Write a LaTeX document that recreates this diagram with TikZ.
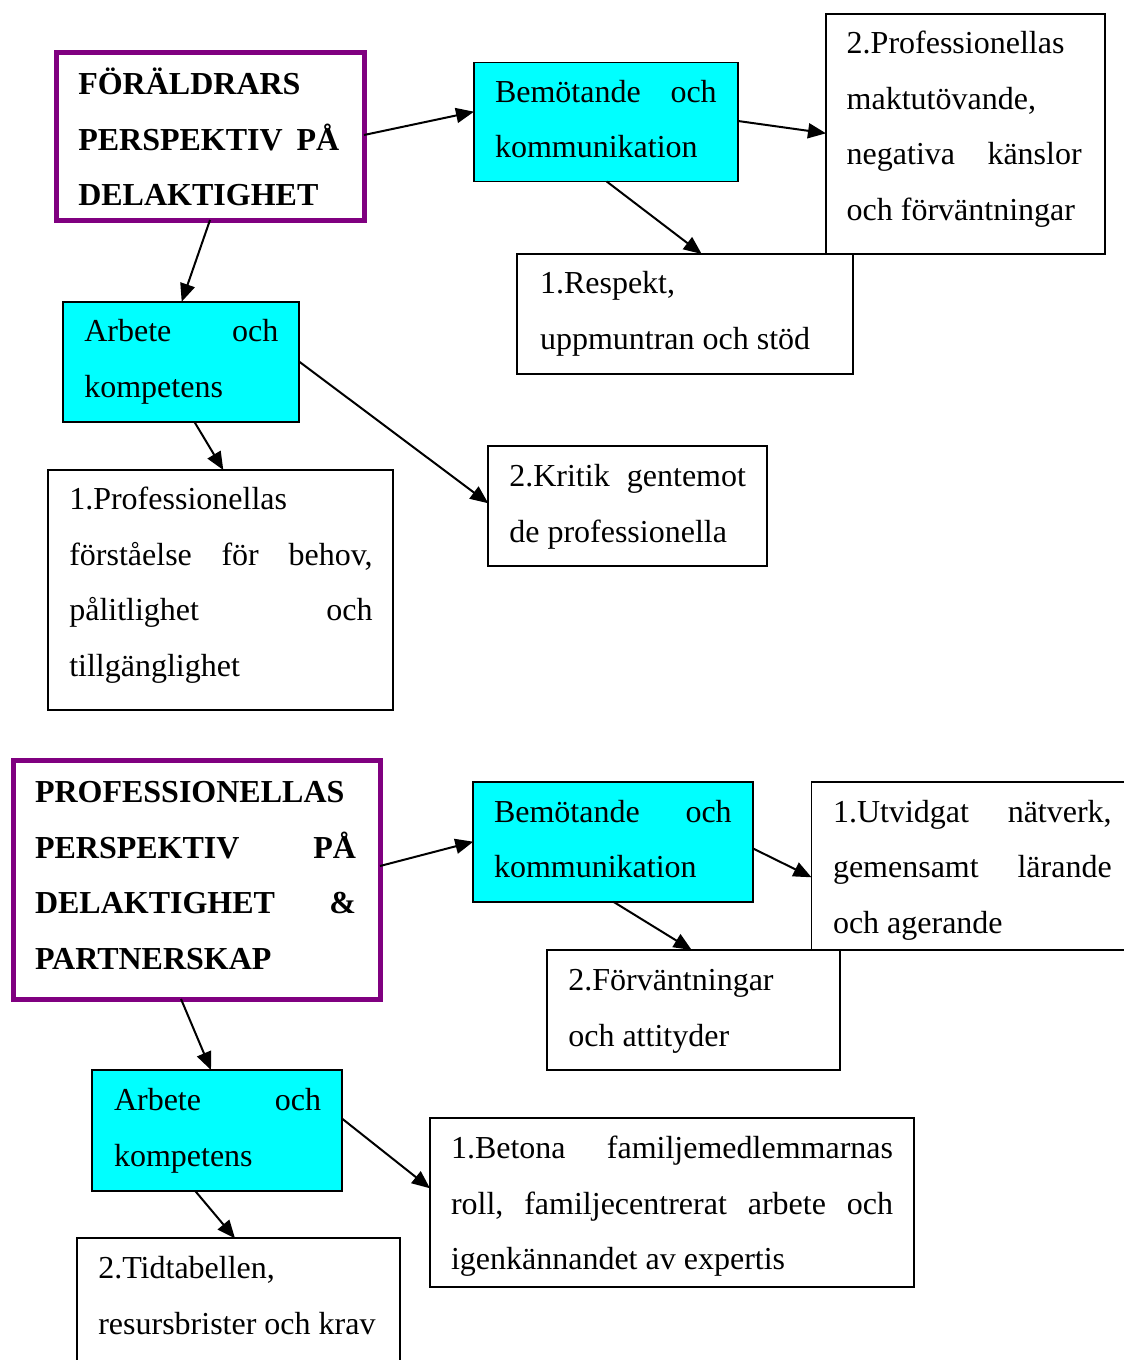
\documentclass[tikz,border=0pt]{standalone}
\usepackage{fontspec}
\setmainfont{Liberation Serif}
\usetikzlibrary{arrows.meta,fit,calc}
\definecolor{boxpurple}{RGB}{128,0,128}
\definecolor{boxcyan}{RGB}{0,255,255}
\begin{document}
\begin{tikzpicture}[x=0.5pt,y=-0.5pt,
  plainbox/.style={draw=black, line width=0.9pt, fill=white, inner sep=0pt, outer sep=0pt},
  cyanbox/.style={plainbox, fill=boxcyan},
  purplebox/.style={draw=boxpurple, line width=2.5pt, fill=white, inner sep=0pt, outer sep=0pt},
  txt/.style={anchor=base west, inner sep=0pt, outer sep=0pt, font=\fontsize{16pt}{27.75pt}\selectfont},
  conn/.style={line width=1pt, -{Triangle[length=9pt,width=7.5pt]}}]
\useasboundingbox (0,0) rectangle (1124,1360);
\clip (0,0) rectangle (1124,1360);

% ---------- upper diagram ----------
\node[purplebox, fit={(56,52)(364,220)}] (p1) {};
\node[cyanbox, fit={(474,62.5)(738,181.5)}] (bm1) {};
\node[plainbox, fit={(826,14)(1105,254)}] (pm) {};
\node[plainbox, fit={(517.3,254)(853.3,374)}] (rs) {};
\node[cyanbox, fit={(62.7,301.7)(299.3,421.7)}] (ak1) {};
\node[plainbox, fit={(48.3,470)(393.3,710)}] (pf) {};
\node[plainbox, fit={(488.3,446)(767.3,566)}] (kr) {};

\node[txt] (tp1) at (78.3,94.5) {\parbox[t]{130.5pt}{\bfseries F\"OR\"ALDRARS\\\makebox[\linewidth]{PERSPEKTIV\hfill P\AA}\\DELAKTIGHET}};
\node[txt] (tbm1) at (495,102.2) {\parbox[t]{110.85pt}{\makebox[\linewidth]{Bemötande\hfill och}\\kommunikation}};
\node[txt] (tpm) at (846.7,53.8) {\parbox[t]{117.5pt}{2.Professionellas\\maktutövande,\\\makebox[\linewidth]{negativa\hfill känslor}\\och förväntningar}};
\node[txt] (trs) at (540,293.8) {\parbox[t]{150pt}{1.Respekt,\\uppmuntran och stöd}};
\node[txt] (tak1) at (84.3,341.5) {\parbox[t]{97pt}{\makebox[\linewidth]{Arbete\hfill och}\\kompetens}};
\node[txt] (tpf) at (69.3,509.8) {\parbox[t]{151.7pt}{1.Professionellas\\\makebox[\linewidth]{förståelse\hfill för\hfill behov,}\\\makebox[\linewidth]{pålitlighet\hfill och}\\tillgänglighet}};
\node[txt] (tkr) at (509.3,486.5) {\parbox[t]{118.35pt}{\makebox[\linewidth]{2.Kritik\hfill gentemot}\\de professionella}};

\draw[conn] (p1.east |- 0,135) -- (bm1.west |- 0,111.7);
\draw[conn] (bm1.east |- 0,121) -- (pm.west |- 0,133.3);
\draw[conn] (bm1.south -| 606.7,0) -- (rs.north -| 701.7,0);
\draw[conn] (p1.south -| 210,0) -- (ak1.north -| 181.7,0);
\draw[conn] (ak1.east |- 0,361.7) -- (kr.west |- 0,503.3);
\draw[conn] (ak1.south -| 194.3,0) -- (pf.north -| 223.3,0);

% ---------- lower diagram ----------
\node[purplebox, fit={(13.5,760)(380,999)}] (p2) {};
\node[cyanbox, fit={(473.3,782.3)(752.7,901.7)}] (bm2) {};
\node[plainbox, fit={(811.5,782.3)(1140,950)}] (ut) {};
\node[plainbox, fit={(546.7,950)(840,1070)}] (fv) {};
\node[cyanbox, fit={(91.7,1070)(341.7,1190.7)}] (ak2) {};
\node[plainbox, fit={(430,1118.3)(914,1286.7)}] (bt) {};
\node[plainbox, fit={(77.3,1238.3)(400,1390)}] (tt) {};

\node[txt] (tp2) at (35,802.8) {\parbox[t]{160.5pt}{\bfseries PROFESSIONELLAS\\\makebox[\linewidth]{PERSPEKTIV\hfill P\AA}\\\makebox[\linewidth]{DELAKTIGHET\hfill \&}\\PARTNERSKAP}};
\node[txt] (tbm2) at (494,822.2) {\parbox[t]{118.85pt}{\makebox[\linewidth]{Bemötande\hfill och}\\kommunikation}};
\node[txt] (tut) at (833,822.2) {\parbox[t]{139.35pt}{\makebox[\linewidth]{1.Utvidgat\hfill nätverk,}\\\makebox[\linewidth]{gemensamt\hfill lärande}\\och agerande}};
\node[txt] (tfv) at (568.3,990.5) {\parbox[t]{130pt}{2.Förväntningar\\och attityder}};
\node[txt] (tak2) at (114,1110.5) {\parbox[t]{103.5pt}{\makebox[\linewidth]{Arbete\hfill och}\\kompetens}};
\node[txt] (tbt) at (451,1158.8) {\parbox[t]{221pt}{\makebox[\linewidth]{1.Betona\hfill familjemedlemmarnas}\\\makebox[\linewidth]{roll,\hfill familjecentrerat\hfill arbete\hfill och}\\igenkännandet av expertis}};
\node[txt] (ttt) at (98.3,1278.8) {\parbox[t]{150pt}{2.Tidtabellen,\\resursbrister och krav}};

\draw[conn] (p2.east |- 0,866) -- (bm2.west |- 0,841.7);
\draw[conn] (bm2.east |- 0,848.3) -- (ut.west |- 0,877.3);
\draw[conn] (bm2.south -| 613.3,0) -- (fv.north -| 691.7,0);
\draw[conn] (p2.south -| 181,0) -- (ak2.north -| 211,0);
\draw[conn] (ak2.east |- 0,1118.3) -- (bt.west |- 0,1188.3);
\draw[conn] (ak2.south -| 195,0) -- (tt.north -| 235,0);
\end{tikzpicture}
\end{document}
